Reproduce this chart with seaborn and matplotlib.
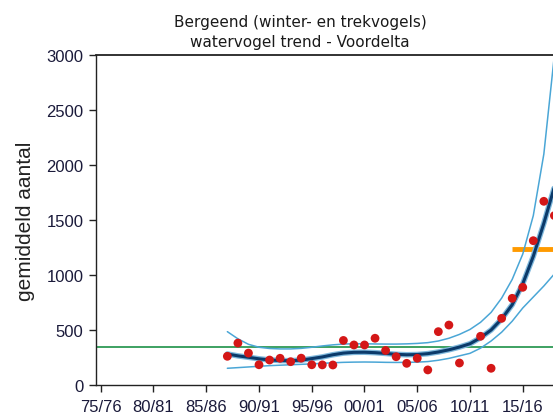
import matplotlib
matplotlib.use('Agg')
import matplotlib.pyplot as plt
import numpy as np
import pandas as pd
import seaborn as sns

# counted seasons (year of 1st winter month) and mean numbers
count_years = [1987, 1988, 1989, 1990, 1991, 1992, 1993, 1994, 1995, 1996,
               1997, 1998, 1999, 2000, 2001, 2002, 2003, 2004, 2005, 2006,
               2007, 2008, 2009, 2011, 2012, 2013, 2014, 2015, 2016, 2017, 2018]
counts = [261, 381, 290, 184, 227, 243, 212, 244, 184, 183,
          182, 405, 364, 364, 425, 314, 257, 197, 243, 137,
          485, 545, 200, 443, 152, 606, 788, 888, 1312, 1670, 1540]

# smoothed trend with confidence band
trend_years = list(range(1987, 2019))
trend = [282, 265, 252, 238, 228, 222, 221, 226, 240, 255,
         275, 290, 297, 298, 294, 287, 279, 275, 277, 285,
         300, 320, 345, 375, 430, 500, 600, 730, 920, 1170, 1470, 1800]
upper = [485, 420, 370, 343, 332, 328, 328, 333, 343, 355,
         365, 372, 375, 375, 373, 372, 372, 374, 378, 385,
         400, 425, 460, 505, 570, 660, 790, 960, 1190, 1540, 2100, 3000]
lower = [152, 158, 164, 170, 176, 180, 184, 188, 192, 197,
         202, 206, 208, 209, 208, 206, 205, 206, 208, 213,
         225, 242, 265, 288, 335, 400, 480, 580, 700, 800, 900, 1010]

reference_level = 345     # green line
target_level = 1240       # orange line
target_span = (2014, 2021)

tick_years = list(range(1975, 2020, 5))
tick_labels = ['75/76', '80/81', '85/86', '90/91', '95/96', '00/01',
               '05/06', '10/11', '15/16']

pts = pd.DataFrame({'jaar': count_years, 'aantal': counts})
tr = pd.DataFrame({'jaar': trend_years, 'trend': trend, 'upper': upper, 'lower': lower})

sns.set_style('ticks')
plt.rcParams['font.family'] = ['Liberation Sans', 'DejaVu Sans']

fig = plt.figure(figsize=(5.53, 4.14), dpi=100)
# axes run off the right edge of the picture, like the cropped original
ax = fig.add_axes([96/553, 1 - 386/414, (602.4 - 96)/553, (386 - 56)/414])

ax.axhline(reference_level, color='#2e9a55', lw=1.3, zorder=2)
ax.hlines(target_level, *target_span, color='#ff9a00', lw=3.5, zorder=3)

sns.lineplot(data=tr, x='jaar', y='upper', color='#4aa6d6', lw=1.1, ax=ax, zorder=3)
sns.lineplot(data=tr, x='jaar', y='lower', color='#4aa6d6', lw=1.1, ax=ax, zorder=3)
sns.lineplot(data=tr, x='jaar', y='trend', color='#7fb8dc', lw=4.0, ax=ax, zorder=4)
sns.lineplot(data=tr, x='jaar', y='trend', color='#0b3a6a', lw=2.2, ax=ax, zorder=5)
sns.scatterplot(data=pts, x='jaar', y='aantal', color='#d41717', s=40,
                edgecolor='none', ax=ax, zorder=6)

ax.set_xlim(1974.55, 2022.55)
ax.set_ylim(0, 3000)
ax.set_xticks(tick_years)
ax.set_xticklabels(tick_labels)
ax.set_yticks(range(0, 3001, 500))
ax.tick_params(direction='out', length=5, width=1, labelsize=12,
               colors='#222222', labelcolor='#1a1a3a')
ax.tick_params(axis='y', pad=4)
ax.tick_params(axis='x', pad=5)
for s in ax.spines.values():
    s.set_color('#222222')
    s.set_linewidth(1.0)
ax.spines['top'].set_linewidth(1.3)

ax.set_xlabel('')
ax.set_ylabel('gemiddeld aantal', fontsize=15, labelpad=8, color='#222222')

fig.text(300/553, 1 - 22/414, 'Bergeend (winter- en trekvogels)', ha='center',
         va='center', fontsize=11, family='DejaVu Sans', color='#1a1a1a')
fig.text(300/553, 1 - 43/414, 'watervogel trend - Voordelta', ha='center',
         va='center', fontsize=11, family='DejaVu Sans', color='#1a1a1a')

fig.savefig('out.png', dpi=100)
